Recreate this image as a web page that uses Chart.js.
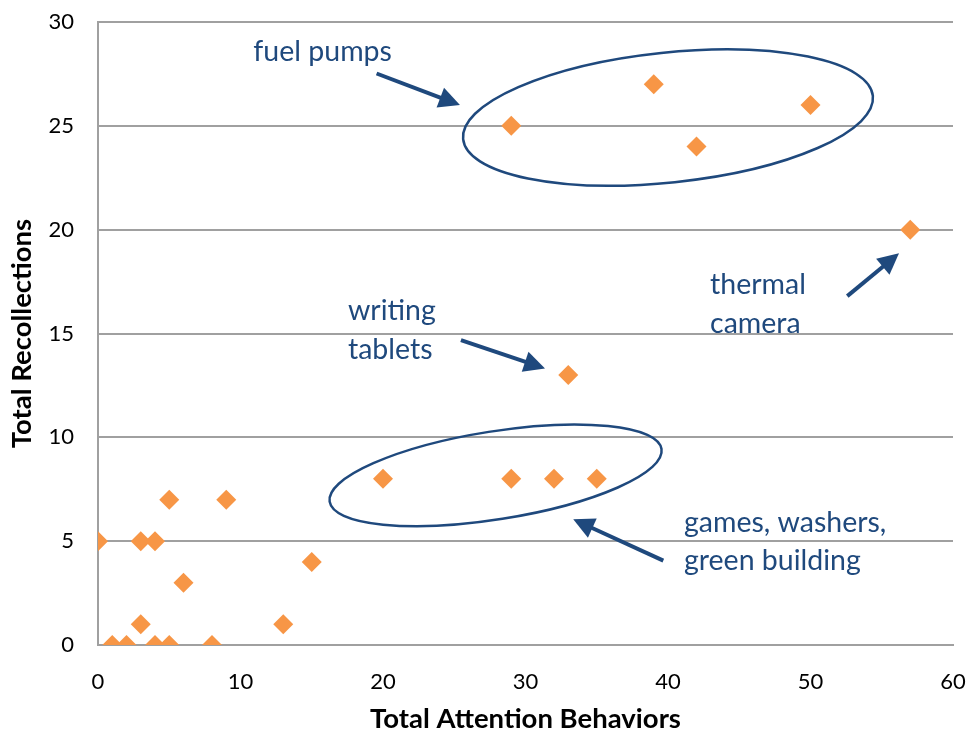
<!DOCTYPE html>
<html>
<head>
<meta charset="utf-8">
<script src="https://cdn.jsdelivr.net/npm/chart.js@4.4.1/dist/chart.umd.min.js"></script>
<style>
html,body{margin:0;padding:0;background:#fff;}
#wrap{width:971px;height:734px;}
</style>
</head>
<body>
<div id="wrap"><canvas id="c" width="971" height="734"></canvas></div>
<script>
// Data
const attentionBehaviors = [0, 1, 2, 3, 3, 4, 4, 5, 5, 6, 8, 9, 13, 15, 20, 29, 32, 35, 33, 29, 39, 42, 50, 57];
const recollections      = [5, 0, 0, 1, 5, 0, 5, 0, 7, 3, 0, 7, 1, 4, 8, 8, 8, 8, 13, 25, 27, 24, 26, 20];
const xTicks = [0, 10, 20, 30, 40, 50, 60];
const yTicks = [0, 5, 10, 15, 20, 25, 30];
const xTitle = 'Total Attention Behaviors';
const yTitle = 'Total Recollections';

// Annotation labels (positions in data units)
const labelTexts = [
  {lines: ['fuel pumps'], x: 10.9, y: 28.1},
  {lines: ['writing', 'tablets'], x: 17.54, y: 15.65},
  {lines: ['thermal', 'camera'], x: 42.95, y: 16.88},
  {lines: ['games, washers,', 'green building'], x: 41.12, y: 5.45}
];
const arrows = [
  {from: [19.55, 27.52], to: [25.4, 26.0]},
  {from: [25.47, 14.68], to: [31.37, 13.32]},
  {from: [52.58, 16.80], to: [56.21, 18.86]},
  {from: [39.67, 4.06], to: [33.35, 6.05]}
];
const ellipses = [
  {cx: 40.0, cy: 25.4, rx: 206, ry: 65, rot: -6},
  {cx: 27.9, cy: 8.17, rx: 168, ry: 44, rot: -9}
];

const navy = '#1F497D';
const points = attentionBehaviors.map((v, i) => ({x: v, y: recollections[i]}));

const annotationPlugin = {
  id: 'annotations',
  afterDatasetsDraw(chart) {
    const ctx = chart.ctx;
    const sx = chart.scales.x, sy = chart.scales.y;
    ctx.save();
    ctx.strokeStyle = navy;
    ctx.fillStyle = navy;
    ctx.lineWidth = 2.5;
    ellipses.forEach(e => {
      ctx.beginPath();
      ctx.ellipse(sx.getPixelForValue(e.cx), sy.getPixelForValue(e.cy), e.rx, e.ry, e.rot * Math.PI / 180, 0, Math.PI * 2);
      ctx.stroke();
    });
    arrows.forEach(a => {
      const x1 = sx.getPixelForValue(a.from[0]), y1 = sy.getPixelForValue(a.from[1]);
      const x2 = sx.getPixelForValue(a.to[0]), y2 = sy.getPixelForValue(a.to[1]);
      const ang = Math.atan2(y2 - y1, x2 - x1);
      const hl = 21, hw = 10.5;
      const bx = x2 - hl * Math.cos(ang), by = y2 - hl * Math.sin(ang);
      ctx.lineWidth = 4;
      ctx.lineCap = 'butt';
      ctx.beginPath();
      ctx.moveTo(x1, y1);
      ctx.lineTo(bx + 2 * Math.cos(ang), by + 2 * Math.sin(ang));
      ctx.stroke();
      ctx.beginPath();
      ctx.moveTo(x2, y2);
      ctx.lineTo(bx - hw * Math.sin(ang), by + hw * Math.cos(ang));
      ctx.lineTo(bx + hw * Math.sin(ang), by - hw * Math.cos(ang));
      ctx.closePath();
      ctx.fill();
    });
    ctx.font = '28.5px Lato';
    ctx.textAlign = 'left';
    ctx.textBaseline = 'alphabetic';
    labelTexts.forEach(t => {
      const x = sx.getPixelForValue(t.x), y = sy.getPixelForValue(t.y);
      t.lines.forEach((ln, i) => ctx.fillText(ln, x, y + i * 38.5));
    });
    ctx.restore();
  }
};

new Chart(document.getElementById('c'), {
  type: 'scatter',
  data: {
    datasets: [{
      data: points,
      pointStyle: 'rectRot',
      pointRadius: 10,
      pointHoverRadius: 10,
      pointBackgroundColor: '#F79646',
      pointBorderColor: '#F79646',
      pointBorderWidth: 0
    }]
  },
  options: {
    responsive: false,
    animation: false,
    events: [],
    layout: {padding: {left: 0, right: 18, top: 22, bottom: 0}},
    plugins: {legend: {display: false}, tooltip: {enabled: false}},
    scales: {
      x: {
        type: 'linear', min: 0, max: 60,
        afterBuildTicks: s => { s.ticks = xTicks.map(v => ({value: v})); },
        afterFit: s => { s.height = 89; s.paddingLeft = 0; s.paddingRight = 0; },
        grid: {display: false, drawTicks: false},
        border: {display: true, color: '#A0A0A0', width: 2},
        ticks: {color: '#000', font: {family: 'Lato', size: 22}, padding: 24, maxRotation: 0},
        title: {display: true, text: xTitle, color: '#000', font: {family: 'Lato', size: 27.5, weight: 'bold'}, padding: {top: 0, bottom: -2}}
      },
      y: {
        type: 'linear', min: 0, max: 30,
        afterBuildTicks: s => { s.ticks = yTicks.map(v => ({value: v})); },
        afterFit: s => { s.width = 98; s.paddingTop = 0; s.paddingBottom = 0; },
        grid: {display: true, drawTicks: false, color: '#A0A0A0', lineWidth: 2},
        border: {display: true, color: '#A0A0A0', width: 2},
        ticks: {color: '#000', font: {family: 'Lato', size: 22}, padding: 24},
        title: {display: true, text: yTitle, color: '#000', font: {family: 'Lato', size: 27.5, weight: 'bold'}, padding: {top: 5.5, bottom: 0}}
      }
    }
  },
  plugins: [annotationPlugin]
});
</script>
</body>
</html>
